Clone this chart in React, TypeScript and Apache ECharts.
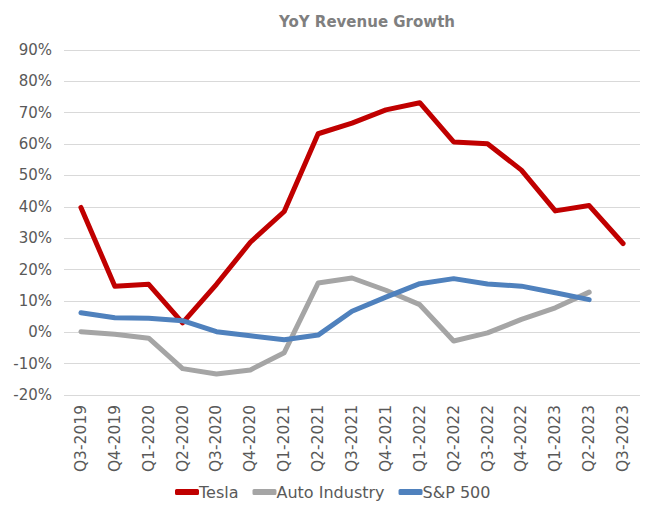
import React, { useEffect, useRef } from "react";
import * as echarts from "echarts";

const categories = [
  "Q3-2019", "Q4-2019", "Q1-2020", "Q2-2020", "Q3-2020", "Q4-2020",
  "Q1-2021", "Q2-2021", "Q3-2021", "Q4-2021", "Q1-2022", "Q2-2022",
  "Q3-2022", "Q4-2022", "Q1-2023", "Q2-2023", "Q3-2023",
];

const tesla = [39.8, 14.7, 15.3, 3.0, 15.3, 28.7, 38.5, 63.3, 66.7, 70.9, 73.2, 60.7, 60.1, 51.7, 38.7, 40.4, 28.3];
const autoIndustry = [0.2, -0.6, -1.9, -11.6, -13.3, -12.0, -6.5, 15.7, 17.3, 13.4, 8.8, -2.8, -0.2, 4.1, 7.8, 12.8, null];
const sp500 = [6.2, 4.6, 4.5, 3.7, 0.2, -1.1, -2.4, -0.9, 6.7, 11.2, 15.5, 17.1, 15.4, 14.7, 12.6, 10.4, null];

const seriesNames = ["Tesla", "Auto Industry", "S&P 500"];
const seriesColors = ["#C00000", "#A5A5A5", "#4F81BD"];

const FONT = "DejaVu Sans";

export default function App() {
  const ref = useRef<HTMLDivElement>(null);
  useEffect(() => {
    if (!ref.current) return;
    const chart = echarts.init(ref.current, undefined, { renderer: "svg" });
    const data = [tesla, autoIndustry, sp500];
    chart.setOption({
      animation: false,
      backgroundColor: "#ffffff",
      textStyle: { fontFamily: FONT },
      title: {
        text: "YoY Revenue Growth",
        left: 362,
        top: 9,
        textAlign: "center",
        textStyle: { color: "#7F7F7F", fontSize: 15, fontWeight: "bold", fontFamily: FONT },
      },
      grid: { left: 64, right: 30, top: 50, bottom: 115, containLabel: false },
      legend: {
        bottom: 5,
        left: 170,
        itemWidth: 24,
        itemHeight: 6,
        itemGap: 14,
        icon: "roundRect",
        textStyle: { color: "#595959", fontSize: 16, fontFamily: FONT, padding: [0, 0, 0, -5] },
        data: seriesNames,
      },
      xAxis: {
        type: "category",
        data: categories,
        boundaryGap: true,
        axisLine: { show: false },
        axisTick: { show: false },
        axisLabel: {
          rotate: 90,
          color: "#595959",
          fontSize: 15.5,
          fontFamily: FONT,
          margin: 10,
          interval: 0,
        },
      },
      yAxis: {
        type: "value",
        min: -20,
        max: 90,
        interval: 10,
        axisLine: { show: false },
        axisTick: { show: false },
        axisLabel: {
          formatter: "{value}%",
          color: "#595959",
          fontSize: 15,
          fontFamily: FONT,
          margin: 12,
        },
        splitLine: { lineStyle: { color: "#D9D9D9", width: 1 } },
      },
      series: seriesNames.map((name, i) => ({
        name,
        type: "line",
        data: data[i],
        symbol: "none",
        color: seriesColors[i],
        lineStyle: { color: seriesColors[i], width: 5, cap: "round", join: "round" },
        z: i === 0 ? 3 : i === 2 ? 4 : 2,
      })),
    });
    return () => chart.dispose();
  }, []);
  return (
    <div
      ref={ref}
      style={{ position: "fixed", left: 0, top: 0, width: 670, height: 510 }}
    />
  );
}
